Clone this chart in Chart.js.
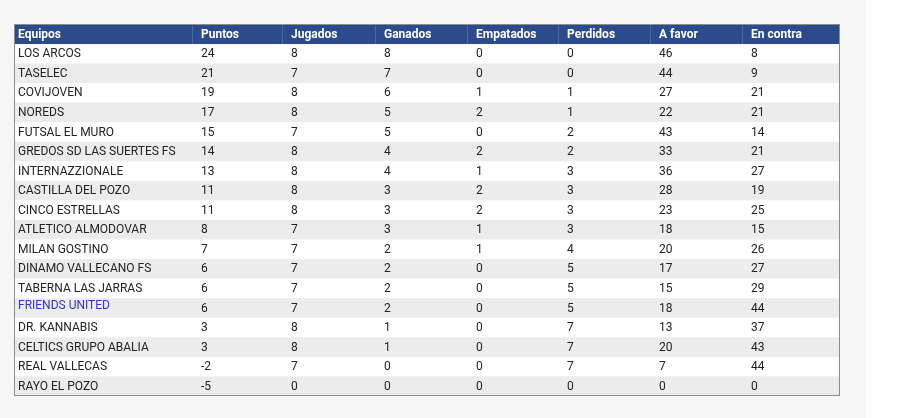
<!DOCTYPE html>
<html>
<head>
<meta charset="utf-8">
<script src="https://cdn.jsdelivr.net/npm/chart.js"></script>
<style>
  body { margin: 0; background: #fff; }
  #wrap { width: 899px; height: 418px; position: relative; }
</style>
</head>
<body>
<div id="wrap"><canvas id="tabla"></canvas></div>
<script>
// Clasificacion
const headers = ['Equipos', 'Puntos', 'Jugados', 'Ganados', 'Empatados', 'Perdidos', 'A favor', 'En contra'];
const equipos = ['LOS ARCOS', 'TASELEC', 'COVIJOVEN', 'NOREDS', 'FUTSAL EL MURO', 'GREDOS SD LAS SUERTES FS',
  'INTERNAZZIONALE', 'CASTILLA DEL POZO', 'CINCO ESTRELLAS', 'ATLETICO ALMODOVAR', 'MILAN GOSTINO',
  'DINAMO VALLECANO FS', 'TABERNA LAS JARRAS', 'FRIENDS UNITED', 'DR. KANNABIS', 'CELTICS GRUPO ABALIA',
  'REAL VALLECAS', 'RAYO EL POZO'];
const puntos = [24, 21, 19, 17, 15, 14, 13, 11, 11, 8, 7, 6, 6, 6, 3, 3, -2, -5];
const jugados = [8, 7, 8, 8, 7, 8, 8, 8, 8, 7, 7, 7, 7, 7, 8, 8, 7, 0];
const ganados = [8, 7, 6, 5, 5, 4, 4, 3, 3, 3, 2, 2, 2, 2, 1, 1, 0, 0];
const empatados = [0, 0, 1, 2, 0, 2, 1, 2, 2, 1, 1, 0, 0, 0, 0, 0, 0, 0];
const perdidos = [0, 0, 1, 1, 2, 2, 3, 3, 3, 3, 4, 5, 5, 5, 7, 7, 7, 0];
const aFavor = [46, 44, 27, 22, 43, 33, 36, 28, 23, 18, 20, 17, 15, 18, 13, 20, 7, 0];
const enContra = [8, 9, 21, 21, 14, 21, 27, 19, 25, 15, 26, 27, 29, 44, 37, 43, 44, 0];

// column left edges in x-scale units (table-relative px)
const colStart = [0, 183, 273, 366, 458, 549, 641, 733, 826];

const columns = [equipos, puntos, jugados, ganados, empatados, perdidos, aFavor, enContra];

const tablePlugin = {
  id: 'tabla',
  beforeDraw(chart) {
    const { ctx, chartArea: a, scales: { x, y } } = chart;
    ctx.save();
    ctx.fillStyle = '#f6f6f6';
    ctx.fillRect(0, 0, 866, 418);
    const step = y.getPixelForValue(1) - y.getPixelForValue(0);
    // header
    const hTop = a.top - 20;
    ctx.fillStyle = '#2c4b8c';
    ctx.fillRect(a.left, hTop, a.right - a.left, 20);
    ctx.strokeStyle = '#4a68a6';
    ctx.lineWidth = 1;
    for (let c = 1; c < headers.length; c++) {
      const px = Math.round(x.getPixelForValue(colStart[c])) - 4.5;
      ctx.beginPath(); ctx.moveTo(px, hTop); ctx.lineTo(px, a.top); ctx.stroke();
    }
    ctx.font = 'bold 12px Roboto';
    ctx.fillStyle = '#ffffff';
    ctx.textBaseline = 'middle';
    headers.forEach((h, c) => ctx.fillText(h, x.getPixelForValue(colStart[c]) + 4, hTop + 10.5));
    // rows
    equipos.forEach((eq, r) => {
      const cy = y.getPixelForValue(r);
      ctx.fillStyle = r % 2 ? '#ececec' : '#ffffff';
      ctx.fillRect(a.left, cy - step / 2, a.right - a.left, step);
      ctx.font = '12px Roboto';
      columns.forEach((col, c) => {
        ctx.fillStyle = (c === 0 && eq === 'FRIENDS UNITED') ? '#3333cc' : '#222222';
        ctx.fillText(String(col[r]), x.getPixelForValue(colStart[c]) + 4, cy + (eq === 'FRIENDS UNITED' && c === 0 ? -2 : 0.5));
      });
    });
    // border
    ctx.strokeStyle = '#8c8c8c';
    ctx.strokeRect(a.left + 0.5, hTop + 0.5, a.right - a.left - 1, a.bottom - hTop - 1);
    ctx.restore();
  }
};

new Chart(document.getElementById('tabla'), {
  type: 'scatter',
  data: { labels: equipos, datasets: [{ data: [], pointRadius: 0 }] },
  options: {
    responsive: true,
    maintainAspectRatio: false,
    animation: false,
    layout: { padding: { left: 14, top: 44, right: 59, bottom: 22 } },
    plugins: { legend: { display: false }, tooltip: { enabled: false } },
    scales: {
      x: { type: 'linear', min: 0, max: colStart[colStart.length - 1], display: false },
      y: { type: 'category', labels: equipos, offset: true, display: false }
    }
  },
  plugins: [tablePlugin]
});
</script>
</body>
</html>
